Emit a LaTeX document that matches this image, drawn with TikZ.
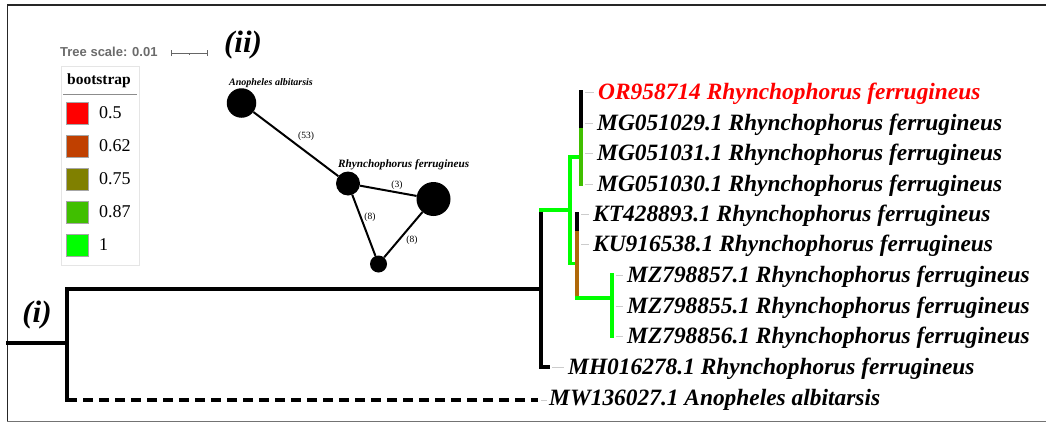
\documentclass[tikz,border=0pt]{standalone}
\usepackage{fontspec}
\usetikzlibrary{calc}
\setmainfont{Liberation Serif}
\newfontfamily\scalebarfont{Liberation Sans}
\definecolor{bsA}{HTML}{FF0000}
\definecolor{bsB}{HTML}{C04000}
\definecolor{bsC}{HTML}{808000}
\definecolor{bsD}{HTML}{40BF00}
\definecolor{bsE}{HTML}{00FF00}
\definecolor{bsMid}{RGB}{176,104,8}
\begin{document}
\begin{tikzpicture}[x=1pt,y=-1pt,
  br/.style={line width=3.3pt,line cap=rect},
  brdash/.style={line width=3.3pt,dash pattern=on 10pt off 6pt},
  tiplabel/.style={font=\fontsize{23.4}{26}\selectfont\bfseries\itshape,anchor=west,
    inner sep=0pt,text height=15.5pt,text depth=0pt},
  leader/.style={draw=black!20,line width=0.8pt},
  panel/.style={font=\fontsize{31}{33}\selectfont\bfseries\itshape,inner sep=0pt},
  hap/.style={circle,fill=black,inner sep=0pt},
  netedge/.style={line width=2pt},
  elabel/.style={font=\fontsize{9.5}{10}\selectfont,inner sep=0pt},
  netlabel/.style={font=\bfseries\itshape,anchor=west,inner sep=0pt},
  swatch/.style={minimum size=22pt,inner sep=0pt,draw=black!35,line width=0.5pt},
  legtext/.style={font=\fontsize{18}{19}\selectfont,anchor=west,inner sep=0pt}]
\useasboundingbox (0,0) rectangle (1046,423);

% frame
\draw[black!85,line width=1.6pt] (7.3,421.5) -- (7.3,4.8) -- (1050,4.8);
\draw[black!55,line width=1.4pt] (7.3,421.5) -- (1050,421.5);

% ---------------- (i) phylogenetic tree ----------------
\node[panel] (pi) at (37,315) {(i)};

% internal nodes
\coordinate (r0) at (7.3,343);
\coordinate (root) at (67,343);
\coordinate (A) at (541,289);
\coordinate (B) at (570,210);
\coordinate (N2) at (581,130);
\coordinate (N3) at (581,157);
\coordinate (M) at (577,263.5);
\coordinate (M1) at (577,229);
\coordinate (Z) at (612,298);

% tips
\coordinate (tOR) at (581,92);
\coordinate (tMGa) at (581,123);
\coordinate (tMGb) at (581,153);
\coordinate (tMGc) at (581,184);
\coordinate (tKT) at (577,214);
\coordinate (tKU) at (577,244);
\coordinate (tMZa) at (612,275);
\coordinate (tMZb) at (612,306);
\coordinate (tMZc) at (612,336);
\coordinate (tMH) at (548,367);
\coordinate (tMW) at (538,400);

% labels
\node[tiplabel,text=red] (lOR) at (598,92) {OR958714 Rhynchophorus ferrugineus};
\node[tiplabel] (lMGa) at (597,123) {MG051029.1 Rhynchophorus ferrugineus};
\node[tiplabel] (lMGb) at (597,153) {MG051031.1 Rhynchophorus ferrugineus};
\node[tiplabel] (lMGc) at (597,184) {MG051030.1 Rhynchophorus ferrugineus};
\node[tiplabel] (lKT) at (593,214) {KT428893.1 Rhynchophorus ferrugineus};
\node[tiplabel] (lKU) at (593,244) {KU916538.1 Rhynchophorus ferrugineus};
\node[tiplabel] (lMZa) at (627,275) {MZ798857.1 Rhynchophorus ferrugineus};
\node[tiplabel] (lMZb) at (627,306) {MZ798855.1 Rhynchophorus ferrugineus};
\node[tiplabel] (lMZc) at (627,336) {MZ798856.1 Rhynchophorus ferrugineus};
\node[tiplabel] (lMH) at (568,367) {MH016278.1 Rhynchophorus ferrugineus};
\node[tiplabel] (lMW) at (549,398) {MW136027.1 Anopheles albitarsis};

% leader lines from tips to labels
\foreach \t/\l in {tOR/lOR,tMGa/lMGa,tMGb/lMGb,tMGc/lMGc,tKT/lKT,tKU/lKU,
                   tMZa/lMZa,tMZb/lMZb,tMZc/lMZc,tMH/lMH}
  \draw[leader] ([xshift=4pt]\t) -- ([xshift=-4pt]\l.west |- \t);
\draw[leader] ([xshift=3pt]tMW) -- ([xshift=-2pt]lMW.west |- tMW);

% black backbone
\draw[br] (r0) -- (root);
\draw[br] (A) -| (root) -- (root |- tMW);
\draw[brdash] (root |- tMW) -- (tMW);
\draw[br] (A |- B) |- (tMH);

% well supported clade
\draw[br,bsE] (A |- B) -- (B);
\draw[br,bsE] (N3) -| (B) -- (B |- M) -- (M);

% MG051 clade
\draw[br] (tOR) -- (N2);
\draw[br,bsD] (N2) -- (tMGc);

% KT / KU / MZ clade
\draw[br,bsMid] (M1) -- (M1 |- Z);
\draw[br] (tKT) -- (M1);
\draw[br,bsE] (M1 |- Z) -- (Z);
\draw[br,bsE] (tMZa) -- (tMZc);

% ---------------- scale and legend ----------------
\node[font=\scalebarfont\bfseries\fontsize{13}{14}\selectfont,text=black!58,
  anchor=west,inner sep=0pt] (scaletxt) at (60,52) {Tree scale: 0.01};
\coordinate (sbL) at (171,53);
\coordinate (sbR) at (207,53);
\draw[black!60,line width=1pt] (sbL) -- (sbR);
\draw[black!60,line width=1pt] ([yshift=-3pt]sbL) -- ([yshift=3pt]sbL);
\draw[black!60,line width=1pt] ([yshift=-3pt]sbR) -- ([yshift=3pt]sbR);
\draw[black!60,line width=1pt] ($(sbL)!0.5!(sbR)$) -- ++(0,2);

\draw[black!10,line width=0.8pt] (61,66) rectangle (139,265);
\node[font=\fontsize{15.5}{16}\selectfont\bfseries,inner sep=0pt] (legtitle) at (99,81) {bootstrap};
\draw[black!45,line width=1pt] (63,94) -- (137,94);
\foreach \c/\v/\y [count=\i] in {bsA/0.5/113,bsB/0.62/146,bsC/0.75/179,bsD/0.87/212,bsE/1/245}{
  \node[swatch,fill=\c] (sw\i) at (77,\y) {};
  \node[legtext] (lv\i) at (99,\y) {\v};
}

% ---------------- (ii) haplotype network ----------------
\node[panel] (pii) at (243,45) {(ii)};

\node[hap,minimum size=29.5pt] (hAn) at (241.5,103) {};
\node[hap,minimum size=24pt] (hRf) at (348,183.5) {};
\node[hap,minimum size=34pt] (hC) at (433.5,199) {};
\node[hap,minimum size=17pt] (hD) at (378.5,264) {};

\node[netlabel,font=\fontsize{10}{11}\selectfont\bfseries\itshape] (nAn) at (229,83) {Anopheles albitarsis};
\node[netlabel,font=\fontsize{11.2}{12}\selectfont\bfseries\itshape] (nRf) at (338,165) {Rhynchophorus ferrugineus};

\draw[netedge] (hAn) -- (hRf);
\draw[netedge] (hRf) -- (hC);
\draw[netedge] (hRf) -- (hD);
\draw[netedge] (hD) -- (hC);

\node[elabel] (e1) at (306,136) {(53)};
\node[elabel] (e2) at (397,185) {(3)};
\node[elabel] (e3) at (370,217) {(8)};
\node[elabel] (e4) at (412,240) {(8)};
\end{tikzpicture}
\end{document}
